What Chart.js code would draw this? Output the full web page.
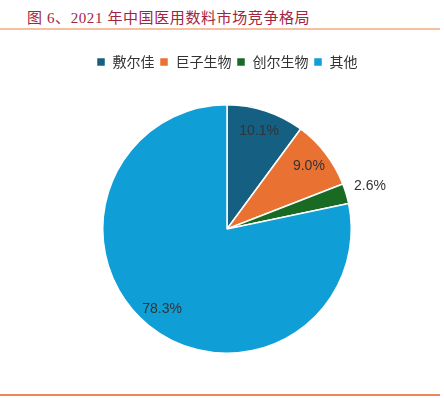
<!DOCTYPE html>
<html>
<head>
<meta charset="utf-8">
<script src="https://cdn.jsdelivr.net/npm/chart.js@4"></script>
<style>
  html, body { margin: 0; padding: 0; background: #fff; }
  #wrap { position: relative; width: 444px; height: 398px; overflow: hidden; }
  #title {
    position: absolute; left: 27px; top: 6px;
    font-family: "Liberation Serif", "Noto Sans CJK SC", serif;
    font-size: 15px; color: #a3243f; letter-spacing: 0.6px; white-space: nowrap;
  }
  #topline { position: absolute; left: 0; top: 28px; width: 440px; height: 2px; background: #f6bfa0; }
  #botline { position: absolute; left: 0; top: 394px; width: 440px; height: 1.5px; background: #ec8a5c; }
  #barChart { position: absolute; left: 0; top: 0; }
</style>
</head>
<body>
<div id="wrap">
  <div id="title">图 6、2021 年中国医用数料市场竞争格局</div>
  <div id="topline"></div>
  <div id="botline"></div>
  <canvas id="barChart" width="444" height="398"></canvas>
</div>
<script>
// 數據
var chart_labels = ["敷尔佳", "巨子生物", "创尔生物", "其他"]
var chart_data = [10.1, 9.0, 2.6, 78.3]
var chart_colors = ["#156082", "#e97132", "#196b24", "#0f9ed5"]

var ctx
var chart_pie

// 百分比標籤
var pieLabels = {
  id: "pieLabels",
  afterDatasetsDraw: function (chart) {
    var c = chart.ctx
    var meta = chart.getDatasetMeta(0)
    c.save()
    c.font = "14px 'Liberation Sans', Arial, sans-serif"
    c.fillStyle = "#333333"
    c.textAlign = "center"
    c.textBaseline = "middle"
    meta.data.forEach(function (arc, i) {
      var mid = (arc.startAngle + arc.endAngle) / 2
      var r = arc.outerRadius * (chart_data[i] < 5 ? 1.2 : 0.83)
      var x = arc.x + Math.cos(mid) * r
      var y = arc.y + Math.sin(mid) * r
      c.fillText(chart_data[i].toFixed(1) + "%", x, y)
    })
    c.restore()
  },
}

// 圖例下方留白
var legendGap = {
  id: "legendGap",
  beforeInit: function (chart) {
    var fit = chart.legend.fit
    chart.legend.fit = function () {
      fit.bind(chart.legend)()
      this.height += 25
    }
  },
}

ctx = document.getElementById("barChart")
chart_pie = new Chart(ctx, {
  type: "pie",
  plugins: [pieLabels, legendGap],
  data: {
    labels: chart_labels,
    datasets: [
      {
        data: chart_data,
        backgroundColor: chart_colors,
        borderColor: "#ffffff",
        borderWidth: 1.5,
        hoverOffset: 0,
      },
    ],
  },
  options: {
    responsive: false,
    animation: false,
    layout: {
      padding: { top: 50, bottom: 44, left: 10, right: 0 },
    },
    plugins: {
      tooltip: { enabled: false },
      legend: {
        position: "top",
        labels: {
          boxWidth: 9,
          boxHeight: 9,
          padding: 5,
          color: "#333333",
          font: { size: 14, family: "'Noto Sans CJK SC', sans-serif" },
        },
      },
    },
  },
})
</script>
</body>
</html>
